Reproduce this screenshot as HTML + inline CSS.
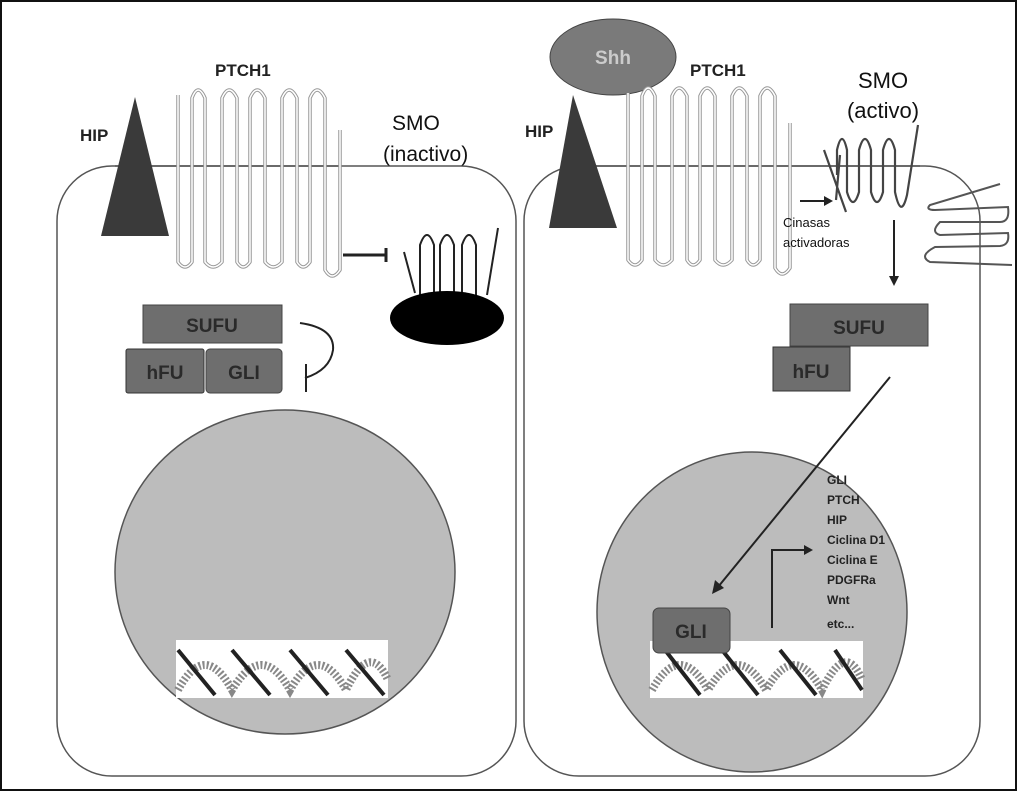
<!DOCTYPE html>
<html><head><style>body{margin:0;background:#fff}svg{display:block}text{font-family:"Liberation Sans",sans-serif}</style></head><body>
<svg width="1018" height="792" viewBox="0 0 1018 792" xmlns="http://www.w3.org/2000/svg">
<rect x="1" y="1" width="1015" height="789" fill="#fff" stroke="#111" stroke-width="2"/>
<rect x="57" y="166" width="459" height="610" rx="55" fill="#fff" stroke="#555" stroke-width="1.5"/>
<rect x="524" y="166" width="456" height="610" rx="55" fill="#fff" stroke="#555" stroke-width="1.5"/>
<line x1="115" y1="166" x2="340" y2="166" stroke="#555" stroke-width="1.5"/>
<line x1="580" y1="166" x2="920" y2="166" stroke="#555" stroke-width="1.5"/>
<ellipse cx="285" cy="572" rx="170" ry="162" fill="#bcbcbc" stroke="#555" stroke-width="1.5"/>
<ellipse cx="752" cy="612" rx="155" ry="160" fill="#bcbcbc" stroke="#555" stroke-width="1.5"/>
<polygon points="135,97 101,236 169,236" fill="#3a3a3a"/>
<text x="80" y="141" font-size="17" font-weight="bold" fill="#222">HIP</text>
<polygon points="573,95 549,228 617,228" fill="#3a3a3a"/>
<text x="525" y="137" font-size="17" font-weight="bold" fill="#222">HIP</text>
<ellipse cx="613" cy="57" rx="63" ry="38" fill="#7a7a7a" stroke="#444"/>
<text x="613" y="64" font-size="19" font-weight="bold" fill="#ccc" text-anchor="middle">Shh</text>
<text x="215" y="76" font-size="17" font-weight="bold" fill="#222">PTCH1</text>
<text x="690" y="76" font-size="17" font-weight="bold" fill="#222">PTCH1</text>
<g fill="none" stroke-linejoin="round">
<path d="M178,95 V262 Q185,272 192,262 V98 Q198,82 205,98 V262 Q213,272 222,262 V98 Q229,82 237,98 V262 Q243,272 250,262 V98 Q257,82 265,98 V262 Q273,272 282,262 V98 Q289,82 297,98 V262 Q303,272 310,262 V98 Q317,82 325,98 V270 Q332,282 340,270 V130" stroke="#999" stroke-width="3.5"/>
<path d="M178,95 V262 Q185,272 192,262 V98 Q198,82 205,98 V262 Q213,272 222,262 V98 Q229,82 237,98 V262 Q243,272 250,262 V98 Q257,82 265,98 V262 Q273,272 282,262 V98 Q289,82 297,98 V262 Q303,272 310,262 V98 Q317,82 325,98 V270 Q332,282 340,270 V130" stroke="#fff" stroke-width="1.5"/>
<g transform="translate(450,-2)">
<path d="M178,95 V262 Q185,272 192,262 V98 Q198,82 205,98 V262 Q213,272 222,262 V98 Q229,82 237,98 V262 Q243,272 250,262 V98 Q257,82 265,98 V262 Q273,272 282,262 V98 Q289,82 297,98 V262 Q303,272 310,262 V98 Q317,82 325,98 V270 Q332,282 340,270 V125" stroke="#999" stroke-width="3.5"/>
<path d="M178,95 V262 Q185,272 192,262 V98 Q198,82 205,98 V262 Q213,272 222,262 V98 Q229,82 237,98 V262 Q243,272 250,262 V98 Q257,82 265,98 V262 Q273,272 282,262 V98 Q289,82 297,98 V262 Q303,272 310,262 V98 Q317,82 325,98 V270 Q332,282 340,270 V125" stroke="#fff" stroke-width="1.5"/>
</g>
</g>
<line x1="343" y1="255" x2="385" y2="255" stroke="#222" stroke-width="3"/>
<line x1="386" y1="248" x2="386" y2="262" stroke="#222" stroke-width="3"/>
<text x="392" y="130" font-size="21" fill="#111">SMO</text>
<text x="383" y="161" font-size="21" fill="#111">(inactivo)</text>
<path d="M404,252 L415,293 M420,295 V245 Q427,225 434,245 V295 M440,295 V245 Q447,225 454,245 V295 M462,295 V245 Q469,225 476,245 V295 M487,295 L498,228" fill="none" stroke="#222" stroke-width="2"/>
<ellipse cx="447" cy="318" rx="57" ry="27" fill="#000"/>
<rect x="143" y="305" width="139" height="38" fill="#6e6e6e" stroke="#444"/>
<text x="212" y="332" font-size="19" font-weight="bold" fill="#2a2a2a" text-anchor="middle">SUFU</text>
<rect x="126" y="349" width="78" height="44" rx="2" fill="#6e6e6e" stroke="#333"/>
<text x="165" y="379" font-size="19" font-weight="bold" fill="#2a2a2a" text-anchor="middle">hFU</text>
<rect x="206" y="349" width="76" height="44" rx="4" fill="#6e6e6e" stroke="#444"/>
<text x="244" y="379" font-size="19" font-weight="bold" fill="#2a2a2a" text-anchor="middle">GLI</text>
<path d="M300,323 Q335,328 333,350 Q330,370 305,378" fill="none" stroke="#222" stroke-width="2"/>
<line x1="306" y1="364" x2="306" y2="392" stroke="#222" stroke-width="2"/>
<rect x="176" y="640" width="212" height="58" fill="#fff"/>
<path d="M178,690 Q205,640 232,690 Q262,640 290,690 Q318,640 346,690 Q370,640 388,680" fill="none" stroke="#888" stroke-width="8" stroke-dasharray="2 2"/>
<path d="M178,650 L215,695 M232,650 L270,695 M290,650 L328,695 M346,650 L384,695" fill="none" stroke="#222" stroke-width="4"/>
<text x="883" y="88" font-size="22" fill="#111" text-anchor="middle">SMO</text>
<text x="883" y="118" font-size="22" fill="#111" text-anchor="middle">(activo)</text>
<path d="M824,150 L846,212 M836,200 L840,155 M837,175 V150 Q842,128 847,150 V192 Q853,212 859,192 V150 Q865,128 871,150 V192 Q877,212 883,192 V150 Q889,128 895,150 V192 Q901,220 907,195 L918,125" fill="none" stroke="#444" stroke-width="2.2"/>
<path d="M1000,184 L930,205 Q925,210 935,210 L1008,207 Q1010,222 1000,222 L940,222 Q930,232 940,235 L1008,233 Q1010,245 1000,246 L935,247 Q918,256 930,262 L1012,265" fill="none" stroke="#555" stroke-width="2"/>
<line x1="800" y1="201" x2="826" y2="201" stroke="#222" stroke-width="2"/><polygon points="833,201 824,196 824,206" fill="#222"/>
<text x="783" y="227" font-size="13" fill="#111">Cinasas</text>
<text x="783" y="247" font-size="13" fill="#111">activadoras</text>
<line x1="894" y1="220" x2="894" y2="278" stroke="#222" stroke-width="2"/><polygon points="894,286 889,276 899,276" fill="#222"/>
<rect x="790" y="304" width="138" height="42" fill="#6e6e6e" stroke="#444"/>
<text x="859" y="334" font-size="19" font-weight="bold" fill="#2a2a2a" text-anchor="middle">SUFU</text>
<rect x="773" y="347" width="77" height="44" fill="#6e6e6e" stroke="#333"/>
<text x="811" y="378" font-size="19" font-weight="bold" fill="#2a2a2a" text-anchor="middle">hFU</text>
<line x1="890" y1="377" x2="718" y2="587" stroke="#222" stroke-width="2"/><polygon points="712,594 715,580 724,588" fill="#222"/>
<rect x="650" y="641" width="213" height="57" fill="#fff"/>
<path d="M652,690 Q680,640 708,690 Q738,640 766,690 Q794,640 822,690 Q846,640 862,680" fill="none" stroke="#888" stroke-width="8" stroke-dasharray="2 2"/>
<path d="M665,650 L700,695 M722,650 L758,695 M780,650 L816,695 M835,650 L862,690" fill="none" stroke="#222" stroke-width="4"/>
<rect x="653" y="608" width="77" height="45" rx="6" fill="#6e6e6e" stroke="#444"/>
<text x="691" y="638" font-size="19" font-weight="bold" fill="#2a2a2a" text-anchor="middle">GLI</text>
<path d="M772,628 V550 H806" fill="none" stroke="#222" stroke-width="2"/><polygon points="813,550 804,545 804,555" fill="#222"/>
<g font-size="12" font-weight="bold" fill="#222">
<text x="827" y="484">GLI</text><text x="827" y="504">PTCH</text><text x="827" y="524">HIP</text><text x="827" y="544">Ciclina D1</text><text x="827" y="564">Ciclina E</text><text x="827" y="584">PDGFRa</text><text x="827" y="604">Wnt</text><text x="827" y="628">etc...</text>
</g>
</svg>
</body></html>
